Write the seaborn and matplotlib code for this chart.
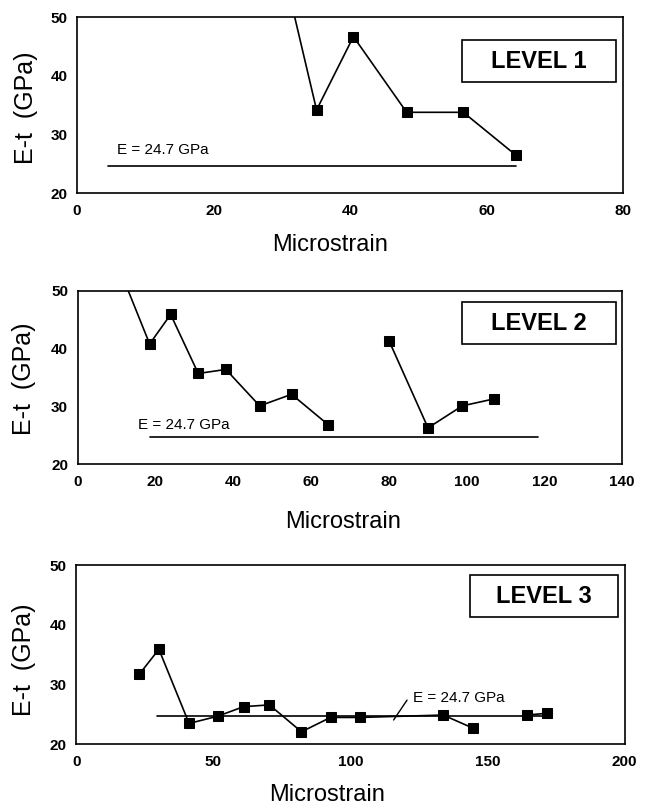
import matplotlib
matplotlib.use("Agg")
import matplotlib.pyplot as plt
from matplotlib.patches import Rectangle
import numpy as np
import pandas as pd
import seaborn as sns

# ---------------- data ----------------
# Level 1 (first point lies above the plotted range, line enters from the top)
l1_x = [30.0, 35.1, 40.5, 48.3, 56.6, 64.3]
l1_y = [59.4, 34.2, 46.7, 33.8, 33.8, 26.5]
l1_seg = [1, 1, 1, 1, 1, 1]

# Level 2 (two loading sequences)
l2_x = [10.0, 18.5, 23.9, 31.0, 38.1, 46.8, 55.0, 64.5, 80.1, 90.1, 98.9, 107.0]
l2_y = [55.0, 40.8, 45.9, 35.7, 36.4, 30.1, 32.1, 26.8, 41.3, 26.3, 30.1, 31.3]
l2_seg = [1, 1, 1, 1, 1, 1, 1, 1, 2, 2, 2, 2]

# Level 3
l3_x = [22.9, 30.1, 41.1, 51.5, 61.0, 70.4, 82.1, 92.7, 103.5, 133.8, 144.7, 164.3, 171.8]
l3_y = [31.7, 35.9, 23.5, 24.7, 26.3, 26.6, 22.1, 24.5, 24.5, 24.9, 22.7, 24.9, 25.2]
l3_seg = [1, 1, 1, 1, 1, 1, 1, 1, 1, 1, 1, 2, 2]

E_ref = 24.7
ref_spans = [(4.55, 64.3), (18.5, 118.4), (29.4, 171.8)]
level_labels = ["LEVEL 1", "LEVEL 2", "LEVEL 3"]
xlims = [(0, 80), (0, 140), (0, 200)]
xticks = [[0, 20, 40, 60, 80], [0, 20, 40, 60, 80, 100, 120, 140], [0, 50, 100, 150, 200]]
yticks = [20, 30, 40, 50]
ref_text = "E = 24.7 GPa"
xlabel = "Microstrain"
ylabel = "E-t  (GPa)"

# ---------------- style ----------------
sns.set_style("white")
plt.rcParams["font.family"] = ["Liberation Sans", "DejaVu Sans"]
plt.rcParams["text.color"] = "black"
plt.rcParams["axes.labelcolor"] = "black"
plt.rcParams["xtick.color"] = "black"
plt.rcParams["ytick.color"] = "black"

fig = plt.figure(figsize=(6.45, 8.06), dpi=100)

positions = [
    [0.1194, 0.7602, 0.8465, 0.2184],
    [0.1205, 0.4239, 0.8439, 0.2154],
    [0.1184, 0.0765, 0.8502, 0.2225],
]
boxes = [  # x0, y0, x1, y1 in axes fraction
    (0.705, 0.631, 0.987, 0.871),
    (0.706, 0.693, 0.988, 0.933),
    (0.718, 0.708, 0.987, 0.944),
]
ref_text_pos = [(5.9, 26.7), (15.6, 26.05), (122.8, 27.1)]
xlabel_coords = [(0.463, -0.294), (0.487, -0.331), (0.458, -0.283)]
ylabel_coords = [(-0.093, 0.485), (-0.099, 0.493), (-0.096, 0.47)]

datasets = [(l1_x, l1_y, l1_seg), (l2_x, l2_y, l2_seg), (l3_x, l3_y, l3_seg)]

for i, (xs, ys, segs) in enumerate(datasets):
    ax = fig.add_axes(positions[i])
    df = pd.DataFrame({"x": xs, "y": ys, "seg": segs})
    # reference modulus line
    ref_df = pd.DataFrame({"x": list(ref_spans[i]), "y": [E_ref, E_ref]})
    sns.lineplot(data=ref_df, x="x", y="y", ax=ax, color="black", lw=1.2,
                 estimator=None, sort=False)
    sns.lineplot(data=df, x="x", y="y", units="seg", estimator=None, sort=False,
                 ax=ax, color="black", lw=1.2, marker="s", markersize=7.5,
                 markeredgecolor="black", markerfacecolor="black", legend=False)

    ax.set_xlim(*xlims[i])
    ax.set_ylim(20, 50)
    ax.set_xticks(xticks[i])
    ax.set_yticks(yticks)
    ax.tick_params(axis="x", direction="in", length=7, width=1.1, pad=8,
                   labelsize=11, colors="black")
    ax.tick_params(axis="y", direction="in", length=5, width=1.1, pad=7,
                   labelsize=11, colors="black")
    for lab in ax.get_xticklabels() + ax.get_yticklabels():
        lab.set_fontweight("bold")
    for sp in ax.spines.values():
        sp.set_visible(True)
        sp.set_color("black")
        sp.set_linewidth(1.2)

    ax.set_xlabel(xlabel, fontsize=17, color="black")
    ax.xaxis.label.set_va("center")
    ax.xaxis.set_label_coords(*xlabel_coords[i])
    ax.set_ylabel(ylabel, fontsize=18, color="black")
    ax.yaxis.label.set_va("center")
    ax.yaxis.set_label_coords(*ylabel_coords[i])

    tx, ty = ref_text_pos[i]
    ax.text(tx, ty, ref_text, fontsize=11, ha="left", va="baseline", color="black")
    if i == 2:
        ax.plot([115.7, 120.6], [24.07, 27.4], color="black", lw=1.0)

    x0, y0, x1, y1 = boxes[i]
    ax.add_patch(Rectangle((x0, y0), x1 - x0, y1 - y0, transform=ax.transAxes,
                           fill=True, facecolor="white", edgecolor="black",
                           lw=1.2, zorder=5))
    ax.text((x0 + x1) / 2, (y0 + y1) / 2, level_labels[i], transform=ax.transAxes,
            fontsize=17, fontweight="bold", ha="center", va="center", zorder=6,
            color="black")

fig.savefig("out.png", dpi=100)
